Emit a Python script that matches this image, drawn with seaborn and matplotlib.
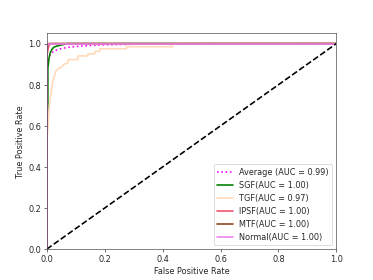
import numpy as np
import pandas as pd
import matplotlib
matplotlib.use('Agg')
import matplotlib.pyplot as plt
import seaborn as sns

sns.set_style('white')
plt.rcParams['font.family'] = ['DejaVu Sans']

# ROC points (fpr, tpr)
avg_fpr = [0.0, 0.0, 0.003, 0.006, 0.012, 0.02, 0.03, 0.045, 0.07, 0.1, 0.15, 0.2, 0.3, 0.45, 0.6, 0.8, 1.0]
avg_tpr = [0.0, 0.88, 0.91, 0.925, 0.945, 0.958, 0.967, 0.974, 0.981, 0.986, 0.991, 0.994, 0.997, 0.999, 1.0, 1.0, 1.0]

sgf_fpr = [0.0, 0.0, 0.004, 0.004, 0.008, 0.012, 0.018, 0.025, 0.04, 0.06, 0.07, 1.0]
sgf_tpr = [0.0, 0.62, 0.62, 0.88, 0.93, 0.955, 0.972, 0.983, 0.99, 0.996, 1.0, 1.0]

tgf_fpr = [0.0, 0.0, 0.005, 0.008, 0.012, 0.016, 0.02, 0.026, 0.033, 0.042, 0.05, 0.06, 0.073, 0.073, 0.108, 0.108,
           0.142, 0.142, 0.166, 0.166, 0.183, 0.183, 0.275, 0.275, 0.435, 0.435, 1.0]
tgf_tpr = [0.0, 0.52, 0.6, 0.68, 0.73, 0.77, 0.81, 0.84, 0.87, 0.88, 0.885, 0.9, 0.905, 0.922, 0.922, 0.94,
           0.94, 0.95, 0.95, 0.962, 0.962, 0.975, 0.975, 0.985, 0.985, 1.0, 1.0]

ipsf_fpr = [0.0, 0.0, 0.003, 0.006, 0.012, 1.0]
ipsf_tpr = [0.0, 0.93, 0.96, 0.985, 1.0, 1.0]

mtf_fpr = [0.0, 0.0, 0.004, 1.0]
mtf_tpr = [0.0, 0.98, 1.0, 1.0]

normal_fpr = [0.0, 0.0, 1.0]
normal_tpr = [0.0, 1.0, 1.0]

curves = [
    ('Average (AUC = 0.99)', avg_fpr, avg_tpr, 'magenta', ':'),
    ('SGF(AUC = 1.00)', sgf_fpr, sgf_tpr, 'green', '-'),
    ('TGF(AUC = 0.97)', tgf_fpr, tgf_tpr, 'peachpuff', '-'),
    ('IPSF(AUC = 1.00)', ipsf_fpr, ipsf_tpr, '#f0506e', '-'),
    ('MTF(AUC = 1.00)', mtf_fpr, mtf_tpr, 'saddlebrown', '-'),
    ('Normal(AUC = 1.00)', normal_fpr, normal_tpr, 'violet', '-'),
]

fig, ax = plt.subplots(figsize=(6.4, 4.8), dpi=58.4)
for label, fpr, tpr, color, ls in curves:
    df = pd.DataFrame({'fpr': fpr, 'tpr': tpr})
    sns.lineplot(data=df, x='fpr', y='tpr', sort=False, estimator=None, ax=ax,
                 color=color, linestyle=ls, linewidth=2, label=label)

ax.plot([0, 1], [0, 1], 'k--', lw=2)
ax.set_xlim([0.0, 1.0])
ax.set_ylim([0.0, 1.05])
ax.set_xlabel('False Positive Rate')
ax.set_ylabel('True Positive Rate')
ax.legend(loc='lower right')
for s in ax.spines.values():
    s.set_color('#444444')
ax.tick_params(left=True, bottom=True, length=3.5)

plt.savefig('out.png', dpi=58.4)
